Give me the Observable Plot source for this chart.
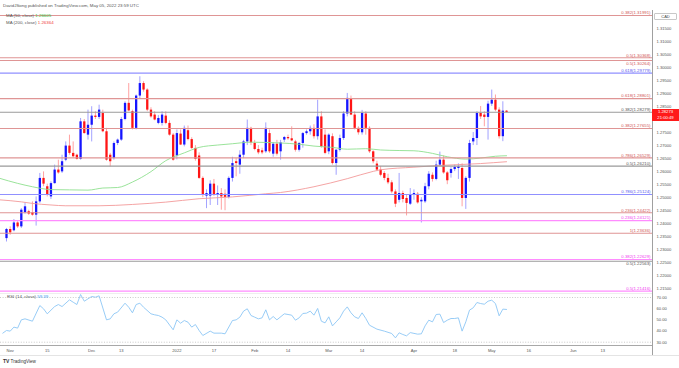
<!DOCTYPE html>
<html><head><meta charset="utf-8">
<script src="https://cdn.jsdelivr.net/npm/d3@7"></script>
<script src="https://cdn.jsdelivr.net/npm/@observablehq/plot@0.6"></script>
<style>
body{margin:0;background:#fff;width:679px;height:368px;overflow:hidden;position:relative;font-family:Arial,"Liberation Sans",sans-serif;}
.t{position:absolute;white-space:nowrap;font-size:4.4px;line-height:5px;color:#555;}
#price{position:absolute;left:0;top:10px;}
#rsi{position:absolute;left:0;top:293px;}
.ln{position:absolute;}
</style></head><body>
<div class="t" style="left:3px;top:3px;color:#555">DavidJSong published on TradingView.com, May 05, 2022 23:59 UTC</div>
<div id="price"></div>
<div id="rsi"></div>
<div class="ln" style="left:652px;top:10px;width:1px;height:345px;background:#a0a0a0"></div>
<div class="ln" style="left:0;top:345px;width:652px;height:1px;background:#a8a8a8"></div>
<div class="ln" style="left:0;top:355px;width:679px;height:1px;background:#e4e4e4"></div>
<div class="ln" style="left:0;top:292.5px;width:652px;height:1px;background:#eeeeee"></div>
<div class="t" style="left:6px;top:12.5px">MA (50, close) <span style="color:#2ec02e">1.26605</span></div>
<div class="t" style="left:6px;top:19.8px">MA (200, close) <span style="color:#f04040">1.26364</span></div>
<div class="t" style="left:7px;top:294.3px">RSI (14, close) <span style="color:#3d9df0">59.39</span></div>
<div class="t" style="left:654px;top:12.5px;width:21px;height:5.5px;line-height:5.5px;border:0.5px solid #c8c8c8;border-radius:1px;text-align:center;font-size:4px;color:#444">CAD</div>
<div class="t" style="left:652px;top:108.5px;width:27px;height:12px;background:#ff1a1a;color:#fff;text-align:center;font-size:4.2px;line-height:5.2px;padding-top:0.8px">1.28273<br>21:00:49</div>
<div class="t" style="left:3px;top:358.5px;color:#333;font-size:4.6px"><b style="font-size:5px">TV</b> TradingView</div>
<script>
// ---- data ----
const firstBar = -1; // bar index of first candle (Nov 1 2021 = 0, trading days)
const opens = [1.2343,1.2378,1.2373,1.2403,1.2388,1.2442,1.2446,1.2442,1.2433,1.2484,1.2574,1.2542,1.2503,1.2554,1.2606,1.2599,1.2644,1.2698,1.2670,1.2663,1.2647,1.2791,1.2740,1.2778,1.2813,1.2808,1.2823,1.2753,1.2663,1.2650,1.2708,1.2721,1.2800,1.2862,1.2830,1.2766,1.2890,1.2938,1.2913,1.2836,1.2817,1.2785,1.2785,1.2813,1.2785,1.2740,1.2660,1.2744,1.2702,1.2757,1.2723,1.2689,1.2660,1.2574,1.2506,1.2506,1.2552,1.2510,1.2516,1.2513,1.2501,1.2574,1.2638,1.2625,1.2663,1.2714,1.2766,1.2708,1.2685,1.2680,1.2676,1.2746,1.2667,1.2705,1.2676,1.2721,1.2731,1.2726,1.2714,1.2682,1.2708,1.2746,1.2753,1.2766,1.2734,1.2810,1.2740,1.2676,1.2734,1.2631,1.2682,1.2727,1.2821,1.2877,1.2817,1.2766,1.2749,1.2821,1.2766,1.2676,1.2629,1.2606,1.2593,1.2574,1.2557,1.2522,1.2490,1.2516,1.2497,1.2475,1.2510,1.2513,1.2484,1.2484,1.2542,1.2586,1.2570,1.2625,1.2644,1.2595,1.2593,1.2608,1.2612,1.2612,1.2497,1.2574,1.2714,1.2727,1.2823,1.2817,1.2808,1.2859,1.2874,1.2836,1.2734,1.2832];
const highs = [1.2382,1.2388,1.2416,1.2408,1.2458,1.2480,1.2452,1.2484,1.2503,1.2593,1.2599,1.2552,1.2561,1.2625,1.2644,1.2663,1.2714,1.2740,1.2714,1.2667,1.2804,1.2800,1.2836,1.2849,1.2830,1.2855,1.2836,1.2766,1.2670,1.2714,1.2725,1.2808,1.2868,1.2938,1.2836,1.2894,1.2964,1.2945,1.2918,1.2845,1.2830,1.2815,1.2830,1.2830,1.2795,1.2746,1.2760,1.2760,1.2775,1.2775,1.2730,1.2700,1.2672,1.2580,1.2530,1.2565,1.2570,1.2545,1.2535,1.2530,1.2580,1.2655,1.2650,1.2680,1.2720,1.2798,1.2770,1.2720,1.2700,1.2690,1.2787,1.2760,1.2712,1.2720,1.2720,1.2735,1.2740,1.2772,1.2720,1.2712,1.2750,1.2760,1.2775,1.2780,1.2874,1.2830,1.2760,1.2745,1.2745,1.2685,1.2740,1.2830,1.2900,1.2890,1.2830,1.2772,1.2835,1.2830,1.2772,1.2680,1.2640,1.2620,1.2600,1.2590,1.2565,1.2530,1.2593,1.2525,1.2510,1.2535,1.2530,1.2520,1.2500,1.2555,1.2600,1.2595,1.2640,1.2675,1.2660,1.2600,1.2615,1.2625,1.2630,1.2630,1.2580,1.2720,1.2750,1.2830,1.2850,1.2830,1.2870,1.2913,1.2894,1.2845,1.2868,1.2834];
const lows = [1.2330,1.2356,1.2369,1.2382,1.2382,1.2437,1.2432,1.2429,1.2391,1.2478,1.2542,1.2503,1.2493,1.2552,1.2590,1.2593,1.2638,1.2663,1.2652,1.2644,1.2644,1.2744,1.2721,1.2714,1.2800,1.2800,1.2749,1.2640,1.2618,1.2644,1.2700,1.2716,1.2795,1.2830,1.2760,1.2760,1.2880,1.2905,1.2830,1.2805,1.2795,1.2780,1.2775,1.2780,1.2736,1.2640,1.2645,1.2700,1.2695,1.2718,1.2685,1.2640,1.2570,1.2500,1.2458,1.2470,1.2505,1.2470,1.2452,1.2450,1.2495,1.2560,1.2580,1.2590,1.2650,1.2700,1.2700,1.2680,1.2665,1.2665,1.2670,1.2670,1.2655,1.2660,1.2644,1.2712,1.2720,1.2715,1.2675,1.2675,1.2690,1.2740,1.2740,1.2725,1.2721,1.2690,1.2665,1.2665,1.2625,1.2586,1.2675,1.2720,1.2810,1.2815,1.2760,1.2740,1.2740,1.2740,1.2670,1.2630,1.2600,1.2580,1.2565,1.2550,1.2515,1.2462,1.2480,1.2480,1.2430,1.2470,1.2490,1.2475,1.2403,1.2478,1.2530,1.2560,1.2565,1.2620,1.2590,1.2550,1.2575,1.2600,1.2570,1.2465,1.2455,1.2560,1.2700,1.2700,1.2800,1.2772,1.2721,1.2850,1.2830,1.2725,1.2715,1.2826];
const closes = [1.2378,1.2365,1.2403,1.2388,1.2452,1.2465,1.2437,1.2433,1.2484,1.2574,1.2552,1.2510,1.2554,1.2606,1.2595,1.2638,1.2698,1.2670,1.2657,1.2647,1.2791,1.2746,1.2778,1.2813,1.2808,1.2836,1.2753,1.2644,1.2638,1.2708,1.2721,1.2800,1.2862,1.2833,1.2766,1.2890,1.2938,1.2913,1.2836,1.2810,1.2798,1.2804,1.2817,1.2785,1.2740,1.2644,1.2746,1.2702,1.2766,1.2723,1.2689,1.2647,1.2574,1.2510,1.2516,1.2552,1.2510,1.2516,1.2503,1.2501,1.2574,1.2631,1.2631,1.2663,1.2714,1.2766,1.2710,1.2685,1.2672,1.2672,1.2766,1.2676,1.2705,1.2667,1.2710,1.2731,1.2726,1.2718,1.2682,1.2708,1.2746,1.2753,1.2766,1.2734,1.2810,1.2695,1.2670,1.2740,1.2631,1.2682,1.2727,1.2821,1.2881,1.2817,1.2766,1.2749,1.2823,1.2766,1.2676,1.2638,1.2606,1.2586,1.2574,1.2557,1.2522,1.2475,1.2516,1.2493,1.2478,1.2510,1.2516,1.2480,1.2490,1.2542,1.2590,1.2570,1.2625,1.2644,1.2595,1.2565,1.2608,1.2616,1.2618,1.2497,1.2574,1.2708,1.2727,1.2823,1.2810,1.2808,1.2859,1.2874,1.2836,1.2734,1.2832,1.2827];

const ma50Bar = [-3,2,6,11,16,21,25,29,33,38,42,47,51,56,60,65,69,73,78,82,87,91,96,100,105,109,114,118,123,127,131,134];
const ma50Val = [1.2575,1.2555,1.2542,1.2531,1.2530,1.2529,1.2537,1.2539,1.2560,1.2600,1.2642,1.2672,1.2693,1.2702,1.2707,1.2713,1.2712,1.2710,1.2705,1.2698,1.2693,1.2686,1.2688,1.2683,1.2681,1.2680,1.2670,1.2657,1.2648,1.2652,1.2659,1.2661];
const ma200Bar = [-3,3,6,11,15,24,33,42,51,60,69,73,82,91,98,100,109,114,118,127,134];
const ma200Val = [1.2492,1.2484,1.2478,1.2472,1.2469,1.2469,1.2474,1.2483,1.2496,1.2503,1.2515,1.2520,1.2542,1.2573,1.2601,1.2607,1.2617,1.2622,1.2625,1.2631,1.2638];

const rsiBar = [-2,-1,0,1,2,3,4,6,8,9,10,12,13,14,16,17,18,19,20,21,22,23,24,26,27,28,29,31,32,33,34,35,36,38,39,40,41,42,44,45,46,47,48,49,50,51,52,54,55,57,58,60,61,62,63,64,65,66,67,68,69,70,71,72,74,75,76,77,78,79,80,81,82,83,84,85,86,87,88,89,90,91,92,93,94,95,96,97,99,101,103,104,105,106,107,108,110,111,112,113,114,115,116,117,118,119,120,121,122,123,124,125,126,127,128,129,130,131,132,133,134];
const rsiVal = [38.1,40.5,39.9,43.5,42.6,50.0,50.9,48.8,62.8,59.9,55.4,61.9,63.7,61.9,67.9,65.8,63.7,72.7,66.7,68.8,70.9,70.3,71.5,50.0,50.9,55.4,56.9,64.9,61.3,56.3,63.7,64.9,61.3,55.4,54.5,53.9,52.4,50.0,41.1,50.0,47.0,49.4,47.9,43.5,45.8,40.5,36.0,39.9,38.1,38.1,37.5,49.4,50.0,52.4,57.8,59.9,53.9,52.4,50.9,51.8,59.0,50.0,53.0,50.0,55.4,54.8,54.2,49.7,51.8,55.7,56.0,57.8,54.2,60.2,48.8,47.3,52.7,44.6,48.2,51.8,57.8,61.6,56.3,52.7,51.2,56.3,51.2,45.2,41.7,39.9,37.8,33.9,38.4,36.9,35.7,38.6,37.2,37.5,44.6,49.7,48.2,54.8,55.1,47.6,49.7,51.2,51.2,51.8,39.9,48.2,58.7,60.8,65.5,64.6,64.0,66.7,67.6,64.6,53.6,59.6,59.3];

const levelLabels = ["0.382(1.31991)","0.5(1.30368)","0.5(1.30264)","0.618(1.29779)","0.618(1.28801)","0.382(1.28279)","0.382(1.27655)","0.786(1.26529)","0.5(1.26210)","0.786(1.25124)","0.236(1.24422)","0.236(1.24121)","1(1.23636)","0.382(1.22629)","0.5(1.22563)","0.5(1.21416)"];
const levelPrices = [1.31991,1.30368,1.30264,1.29779,1.28801,1.28279,1.27655,1.26529,1.26210,1.25124,1.24422,1.24121,1.23636,1.22629,1.22563,1.21416];
const levelKinds = ["red","red","red","blue","red","gray","red","red","gray","blue","red","magenta","red","magenta","gray","magenta"];

// 1.28000 sits under the live price box and is not shown
const priceTicks = [1.215,1.22,1.225,1.23,1.235,1.24,1.245,1.25,1.255,1.26,1.265,1.27,1.275,1.285,1.29,1.295,1.30,1.305,1.31,1.315];
const rsiTicks = [30,40,50,60,70];
const rsiBands = [30,70];
const dateTickBar = [0,10,22,30,45,55,66,75,86,95,109,120,130,140,152,160];
const dateTickLabels = ["Nov","15","Dec","13","2022","17","Feb","14","Mar","14","Apr","18","May","16","Jun","13"];

// ---- build ----
const xDomain = [-2.619, 173.40];
const font = "Arial, 'Liberation Sans', sans-serif";
const candles = opens.map((o,k)=>({bar:firstBar+k, open:o, high:highs[k], low:lows[k], close:closes[k]}));
const isUp = d => d.close >= d.open;
const lineColor = {red:"#df9595", blue:"#9090ff", gray:"#9a9a9a", magenta:"#ff8cff"};
const textColor = {red:"#d05555", blue:"#5555ee", gray:"#555555", magenta:"#f040f0"};
const levels = levelPrices.map((p,k)=>({p, label:levelLabels[k], kind:levelKinds[k],
  crowded: k > 0 && Math.abs(levelPrices[k-1]-p) < 0.0012}));
const ma50 = ma50Bar.map((b,k)=>({bar:b, v:ma50Val[k]}));
const ma200 = ma200Bar.map((b,k)=>({bar:b, v:ma200Val[k]}));
const rsi = rsiBar.map((b,k)=>({bar:b, v:rsiVal[k]}));
const dateLabel = new Map(dateTickBar.map((b,k)=>[b, dateTickLabels[k]]));

const price = Plot.plot({
  width:679, height:283, marginLeft:0, marginRight:27, marginTop:0, marginBottom:0,
  style:{background:"transparent", fontFamily:font, overflow:"visible"},
  x:{domain:xDomain, axis:null},
  y:{domain:[1.213234, 1.321829], axis:null},
  marks:[
    Plot.ruleX(candles, {x:"bar", y1:"low", y2:"high", stroke:d=>isUp(d)?"#8a8aff":"#ff8a8a", strokeWidth:0.8}),
    Plot.ruleX(candles, {x:"bar", y1:"open", y2:"close", stroke:d=>isUp(d)?"#1515ff":"#ff1515", strokeWidth:2.3}),
    Plot.line(ma200, {x:"bar", y:"v", stroke:"#f39a9a", strokeWidth:0.9, curve:"monotone-x"}),
    Plot.line(ma50, {x:"bar", y:"v", stroke:"#8fe08f", strokeWidth:0.9, curve:"monotone-x"}),
    Plot.ruleY(levels, {y:"p", stroke:d=>lineColor[d.kind], strokeWidth:1.1}),
    Plot.text(levels.filter(d=>!d.crowded), {y:"p", frameAnchor:"right", text:"label", textAnchor:"end", dx:-2, dy:-2.6, fill:d=>textColor[d.kind], fontSize:4.3}),
    Plot.text(levels.filter(d=>d.crowded), {y:"p", frameAnchor:"right", text:"label", textAnchor:"end", dx:-2, dy:2.9, fill:d=>textColor[d.kind], fontSize:4.3}),
    Plot.axisY({anchor:"right", label:null, ticks:priceTicks, tickFormat:d=>d.toFixed(5), tickSize:0, tickPadding:4, fill:"#555", fontSize:4.1})
  ]
});
document.getElementById("price").append(price);

const rsiChart = Plot.plot({
  width:679, height:75, marginLeft:0, marginRight:27, marginTop:0, marginBottom:23,
  style:{background:"transparent", fontFamily:font, overflow:"visible"},
  x:{domain:xDomain, axis:null},
  y:{domain:[27.05, 73.58], axis:null},
  marks:[
    Plot.ruleY(rsiBands, {stroke:"#c4c4c4", strokeDasharray:"1,1.6", strokeWidth:0.9}),
    Plot.line(rsi, {x:"bar", y:"v", stroke:"#8cc6f5", strokeWidth:0.9}),
    Plot.axisY({anchor:"right", label:null, ticks:rsiTicks, tickFormat:d=>d.toFixed(2), tickSize:0, tickPadding:4, fill:"#555", fontSize:4.1}),
    Plot.axisX({anchor:"bottom", label:null, ticks:dateTickBar, tickFormat:d=>dateLabel.get(d), tickSize:0, tickPadding:3.2, fill:"#555", fontSize:4.1})
  ]
});
document.getElementById("rsi").append(rsiChart);
</script>
</body></html>
